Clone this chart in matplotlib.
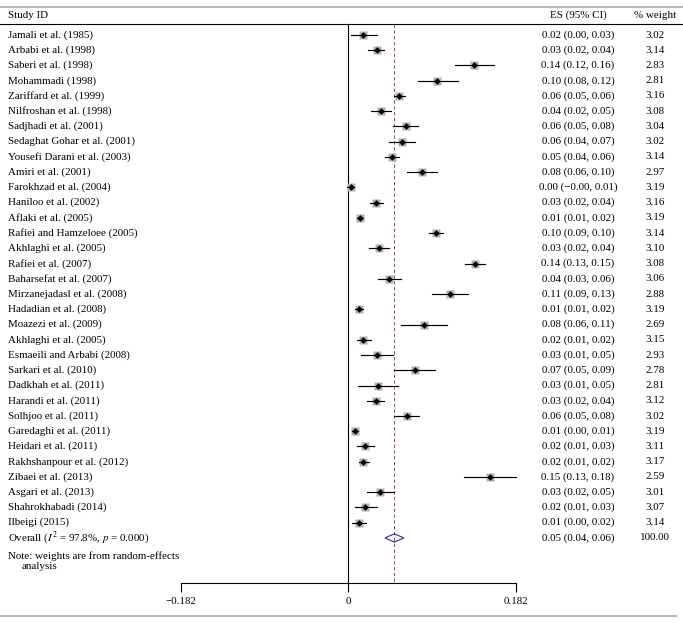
import matplotlib
matplotlib.use("Agg")
import matplotlib.pyplot as plt
import numpy as np
from matplotlib.patches import Polygon

plt.rcParams["font.family"] = ["Liberation Serif", "DejaVu Serif"]
plt.rcParams["mathtext.fontset"] = "stix"

# Datos del forest plot
estudios = ["Jamali et al. (1985)", "Arbabi et al. (1998)", "Saberi et al. (1998)",
            "Mohammadi (1998)", "Zariffard et al. (1999)", "Nilfroshan et al. (1998)",
            "Sadjhadi et al. (2001)", "Sedaghat Gohar et al. (2001)", "Yousefi Darani et al. (2003)",
            "Amiri et al. (2001)", "Farokhzad et al. (2004)", "Haniloo et al. (2002)",
            "Aflaki et al. (2005)", "Rafiei and Hamzeloee (2005)", "Akhlaghi et al. (2005)",
            "Rafiei et al. (2007)", "Baharsefat et al. (2007)", "Mirzanejadasl et al. (2008)",
            "Hadadian et al. (2008)", "Moazezi et al. (2009)", "Akhlaghi et al. (2005)",
            "Esmaeili and Arbabi (2008)", "Sarkari et al. (2010)", "Dadkhah et al. (2011)",
            "Harandi et al. (2011)", "Solhjoo et al. (2011)", "Garedaghi et al. (2011)",
            "Heidari et al. (2011)", "Rakhshanpour et al. (2012)", "Zibaei et al. (2013)",
            "Asgari et al. (2013)", "Shahrokhabadi (2014)", "Ilbeigi (2015)"]
es = [0.0163, 0.0308, 0.1366, 0.0968, 0.0555, 0.0359, 0.0627, 0.0584, 0.048,
      0.0805, 0.0026, 0.0301, 0.0127, 0.0953, 0.0334, 0.1377, 0.0445, 0.1105,
      0.012, 0.0826, 0.0163, 0.0308, 0.0721, 0.0326, 0.0301, 0.0634, 0.0073,
      0.0182, 0.0163, 0.154, 0.0345, 0.0185, 0.0113]
ci_inf = [0.0026, 0.0218, 0.116, 0.076, 0.0497, 0.0243, 0.049, 0.044, 0.0399,
          0.0642, -0.001, 0.0236, 0.0091, 0.0881, 0.0229, 0.1268, 0.0326, 0.091,
          0.0073, 0.0569, 0.0098, 0.0134, 0.0497, 0.0109, 0.0207, 0.0497, 0.0037,
          0.0091, 0.012, 0.1258, 0.0201, 0.0069, 0.004]
ci_sup = [0.0308, 0.0388, 0.1584, 0.1192, 0.062, 0.046, 0.076, 0.0729, 0.0555,
          0.096, 0.0062, 0.0374, 0.0163, 0.1033, 0.0439, 0.149, 0.0576, 0.1297,
          0.0156, 0.1069, 0.0243, 0.0482, 0.0946, 0.054, 0.0392, 0.0772, 0.0105,
          0.0279, 0.0221, 0.1819, 0.0497, 0.0308, 0.0192]
pesos = [3.02, 3.14, 2.83, 2.81, 3.16, 3.08, 3.04, 3.02, 3.14, 2.97, 3.19, 3.16,
         3.19, 3.14, 3.10, 3.08, 3.06, 2.88, 3.19, 2.69, 3.15, 2.93, 2.78, 2.81,
         3.12, 3.02, 3.19, 3.11, 3.17, 2.59, 3.01, 3.07, 3.14]
global_es, global_inf, global_sup, global_peso = 0.05, 0.0399, 0.0605, 100.00
limites_eje = [-0.182, 0, 0.182]


def fmt(v):
    return ("%.2f" % v).replace("-", "\u2212")


W, H = 683, 623
fig = plt.figure(figsize=(W / 100, H / 100), dpi=100)
ax = fig.add_axes([0, 0, 1, 1])

# Escalas: x en unidades del efecto, y en filas
x0_px, escala = 348.3, 920.0
y0_px, paso = 35.0, 15.24
ax.set_xlim(-x0_px / escala, (W - x0_px) / escala)
ax.set_ylim((H - y0_px) / paso, -y0_px / paso)


def fila(py):
    return (py - y0_px) / paso


n = len(estudios)
filas = np.arange(n)
fila_global = n
fs = 7.9
trans = ax.get_yaxis_transform()

# Líneas horizontales del encabezado y del pie
ax.plot([0, 1], [fila(7), fila(7)], transform=trans, color="#b4b4b4", lw=1.4, clip_on=False)
ax.plot([0, 1], [fila(24), fila(24)], transform=trans, color="black", lw=0.8)
ax.plot([0, 0.99], [fila(616), fila(616)], transform=trans, color="#b4b4b4", lw=1.4)

# Eje inferior
y_eje = fila(583)
for s in ["top", "left", "right"]:
    ax.spines[s].set_visible(False)
ax.spines["bottom"].set_position(("data", y_eje))
ax.spines["bottom"].set_bounds(limites_eje[0], limites_eje[-1])
ax.spines["bottom"].set_linewidth(0.8)
ax.set_xticks(limites_eje)
ax.set_xticklabels(["0" if v == 0 else ("%.3f" % v).replace("-", "\u2212")
                    for v in limites_eje], fontsize=fs)
ax.tick_params(axis="x", direction="out", length=6.5, width=0.8, pad=3.5)
ax.set_yticks([])

# Línea vertical en cero y línea del efecto global
ax.plot([0, 0], [fila(24), y_eje], color="black", lw=0.8)
ax.plot([global_es, global_es], [fila(24), y_eje], color="#b0405a", lw=0.7,
        linestyle=(0, (3.5, 2.5)))

# Estudios individuales
for i in range(n):
    ax.plot([ci_inf[i], ci_sup[i]], [filas[i], filas[i]], color="black", lw=0.85, zorder=3)
    lado = 5.6 * np.sqrt(pesos[i] / 3.1)
    ax.plot(es[i], filas[i], marker="s", markersize=lado, color="#b0b0b0", mec="none", zorder=2)
    ax.plot(es[i], filas[i], marker="D", markersize=3.4, color="black", mec="none", zorder=4)
    ax.text(8 / W, filas[i], estudios[i], transform=trans, fontsize=fs, va="center", ha="left")
    ax.text(578 / W, filas[i], "%s (%s, %s)" % (fmt(es[i]), fmt(ci_inf[i]), fmt(ci_sup[i])),
            transform=trans, fontsize=fs, va="center", ha="center")
    ax.text(655 / W, filas[i], "%.2f" % pesos[i], transform=trans, fontsize=fs,
            va="center", ha="center")

# Diamante del efecto global
h = 0.27
diamante = Polygon([[global_inf, fila_global], [global_es, fila_global - h],
                    [global_sup, fila_global], [global_es, fila_global + h]],
                   closed=True, fill=False, edgecolor="#2b2b8c", lw=0.8, zorder=4)
ax.add_patch(diamante)
ax.text(8 / W, fila_global, r"Overall ($I^2$ = 97.8%, $p$ = 0.000)", transform=trans,
        fontsize=fs, va="center", ha="left")
ax.text(578 / W, fila_global, "%s (%s, %s)" % (fmt(global_es), fmt(global_inf), fmt(global_sup)),
        transform=trans, fontsize=fs, va="center", ha="center")
ax.text(655 / W, fila_global, "%.2f" % global_peso, transform=trans, fontsize=fs,
        va="center", ha="center")

# Encabezados
ax.text(8 / W, fila(15), "Study ID", transform=trans, fontsize=fs, va="center", ha="left")
ax.text(578 / W, fila(15), "ES (95% CI)", transform=trans, fontsize=fs, va="center", ha="center")
ax.text(655 / W, fila(15), "% weight", transform=trans, fontsize=fs, va="center", ha="center")

# Nota
ax.text(8 / W, fila(556), "Note: weights are from random-effects", transform=trans,
        fontsize=fs, va="center", ha="left")
ax.text(22 / W, fila(566), "analysis", transform=trans, fontsize=fs, va="center", ha="left")

fig.savefig("out.png", dpi=100)
